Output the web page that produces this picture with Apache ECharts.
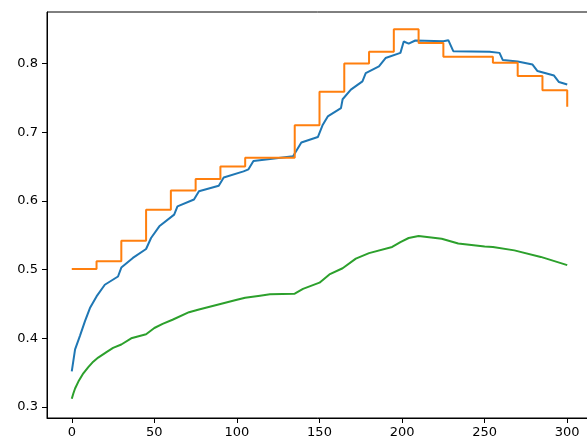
<!DOCTYPE html>
<html>
	<head>
		<meta charset="utf-8" />
		<title>Line chart</title>
		<style>
			html, body { margin: 0; padding: 0; background: #fff; }
		</style>
	</head>
	<body>
		<div id="main" style="width: 587px; height: 441px;"></div>

		<script src="https://cdn.jsdelivr.net/npm/echarts@6/dist/echarts.min.js"></script>
		<script type="text/javascript">
			// tick labels
			const xTicks = [0, 50, 100, 150, 200, 250, 300];
			const yTicks = [0.3, 0.4, 0.5, 0.6, 0.7, 0.8];

			// blue line
			const blueX = [0, 2, 5, 8, 11, 15, 20, 28, 30, 37, 45, 48, 53, 62, 64, 74, 77, 89, 92, 104, 107, 110, 134, 139, 149, 152, 155, 163, 164, 169, 176, 178, 186, 190, 199, 201, 204, 208, 225, 228, 231, 253, 259, 261, 270, 279, 282, 292, 295, 300];
			const blueY = [0.352, 0.384, 0.404, 0.425, 0.444, 0.461, 0.478, 0.490, 0.503, 0.517, 0.530, 0.546, 0.563, 0.580, 0.592, 0.602, 0.614, 0.622, 0.634, 0.643, 0.646, 0.658, 0.665, 0.685, 0.693, 0.711, 0.723, 0.735, 0.748, 0.762, 0.774, 0.786, 0.796, 0.808, 0.8155, 0.832, 0.829, 0.8335, 0.8325, 0.834, 0.818, 0.817, 0.8155, 0.805, 0.803, 0.7985, 0.789, 0.7825, 0.773, 0.7695];

			// orange steps (value holds until the next x)
			const orangeX = [0, 15, 30, 45, 60, 75, 90, 105, 135, 150, 165, 180, 195, 210, 225, 255, 270, 285, 300];
			const orangeY = [0.501, 0.512, 0.542, 0.587, 0.615, 0.632, 0.650, 0.663, 0.710, 0.759, 0.800, 0.817, 0.850, 0.830, 0.810, 0.801, 0.782, 0.761, 0.737];

			// green line
			const greenX = [0, 1, 2, 4, 7, 10, 13, 16, 21, 25, 30, 36, 45, 50, 55, 61, 71, 77, 90, 100, 105, 114, 120, 135, 140, 150, 156, 164, 172, 180, 194, 199, 204, 210, 224, 234, 250, 255, 268, 284, 300];
			const greenY = [0.312, 0.320, 0.327, 0.337, 0.349, 0.358, 0.366, 0.372, 0.380, 0.386, 0.391, 0.400, 0.406, 0.415, 0.421, 0.427, 0.438, 0.442, 0.450, 0.456, 0.459, 0.462, 0.464, 0.465, 0.472, 0.481, 0.493, 0.502, 0.516, 0.524, 0.533, 0.540, 0.546, 0.549, 0.545, 0.538, 0.5335, 0.533, 0.528, 0.5185, 0.5065];

			const pairs = (xs, ys) => xs.map((x, i) => [x, ys[i]]);

			const font = { fontFamily: 'DejaVu Sans', fontSize: 13, color: '#000' };

			const myChart = echarts.init(document.getElementById('main'), null, { renderer: 'canvas' });

			const option = {
				animation: false,
				backgroundColor: '#fff',
				grid: {
					left: 47, top: 12, width: 545, height: 406,
					outerBoundsMode: 'none', containLabel: false,
					show: true, borderColor: '#000', borderWidth: 1,
				},
				xAxis: {
					type: 'value', min: -15, max: 315,
					splitLine: { show: false },
					axisLine: { show: true, onZero: false, lineStyle: { color: '#000', width: 1 } },
					axisTick: { show: true, length: 5, lineStyle: { color: '#000' }, customValues: xTicks },
					axisLabel: Object.assign({ margin: 8, customValues: xTicks, formatter: (v) => String(v) }, font),
				},
				yAxis: {
					type: 'value', min: 0.284, max: 0.875,
					splitLine: { show: false },
					axisLine: { show: true, onZero: false, lineStyle: { color: '#000', width: 1 } },
					axisTick: { show: true, length: 5, lineStyle: { color: '#000' }, customValues: yTicks },
					axisLabel: Object.assign({ margin: 9, customValues: yTicks, formatter: (v) => v.toFixed(1) }, font),
				},
				series: [
					{
						type: 'line', data: pairs(blueX, blueY), showSymbol: false,
						lineStyle: { color: '#1f77b4', width: 2 }, itemStyle: { color: '#1f77b4' },
					},
					{
						type: 'line', data: pairs(orangeX, orangeY), step: 'end', showSymbol: false,
						lineStyle: { color: '#ff7f0e', width: 2 }, itemStyle: { color: '#ff7f0e' },
					},
					{
						type: 'line', data: pairs(greenX, greenY), showSymbol: false,
						lineStyle: { color: '#2ca02c', width: 2 }, itemStyle: { color: '#2ca02c' },
					},
				],
			};
			myChart.setOption(option);
		</script>
	</body>
</html>
